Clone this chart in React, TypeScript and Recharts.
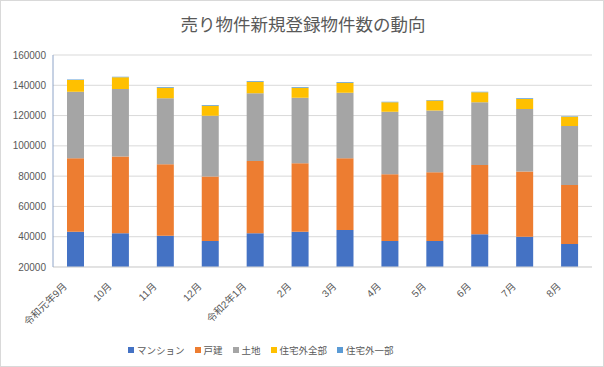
import React from "react";
import {
  BarChart,
  Bar,
  XAxis,
  YAxis,
  CartesianGrid,
  Legend,
} from "recharts";

const months = [
  "令和元年9月",
  "10月",
  "11月",
  "12月",
  "令和2年1月",
  "2月",
  "3月",
  "4月",
  "5月",
  "6月",
  "7月",
  "8月",
];

const mansion = [43300, 42300, 40700, 37200, 42300, 43300, 44400, 37200, 37200, 41600, 40000, 35200];
const kodate = [48500, 50600, 47100, 42500, 47700, 45200, 47400, 44000, 45400, 45800, 43000, 39000];
const tochi = [44000, 44700, 43600, 40200, 44700, 43300, 43300, 41400, 40700, 41400, 41400, 38900];
const jutakugaiZenbu = [7700, 7700, 7000, 6600, 7700, 6600, 6600, 6200, 6600, 6600, 6600, 6100];
const jutakugaiIchibu = [400, 400, 400, 400, 400, 400, 400, 400, 400, 400, 400, 400];

const yTicks = [20000, 40000, 60000, 80000, 100000, 120000, 140000, 160000];

const series = [
  { key: "mansion", name: "マンション", color: "#4472C4" },
  { key: "kodate", name: "戸建", color: "#ED7D31" },
  { key: "tochi", name: "土地", color: "#A5A5A5" },
  { key: "zenbu", name: "住宅外全部", color: "#FFC000" },
  { key: "ichibu", name: "住宅外一部", color: "#5B9BD5" },
];

const data = months.map((m, i) => ({
  month: m,
  mansion: mansion[i],
  kodate: kodate[i],
  tochi: tochi[i],
  zenbu: jutakugaiZenbu[i],
  ichibu: jutakugaiIchibu[i],
}));

const font = "'Liberation Sans', 'Noto Sans CJK JP', sans-serif";
const textColor = "#595959";

function MonthTick(props: any) {
  const { x, y, payload } = props;
  const ax = x - 8;
  const ay = y + 12;
  return (
    <text
      x={ax}
      y={ay}
      transform={`rotate(-45, ${ax}, ${ay})`}
      textAnchor="end"
      fontSize={10}
      fill={textColor}
      fontFamily={font}
    >
      {payload.value}
    </text>
  );
}

function LegendBox() {
  return (
    <div
      style={{
        display: "flex",
        justifyContent: "flex-start",
        gap: 10,
        height: 20,
        alignItems: "center",
        fontSize: 9.5,
        color: textColor,
        fontFamily: font,
        paddingLeft: 128,
      }}
    >
      {series.map((s) => (
        <span key={s.key} style={{ display: "flex", alignItems: "center" }}>
          <span
            style={{
              display: "inline-block",
              width: 6,
              height: 6,
              background: s.color,
              marginRight: 3,
            }}
          />
          {s.name}
        </span>
      ))}
    </div>
  );
}

export default function App() {
  return (
    <div
      style={{
        position: "absolute",
        left: 0,
        top: 0,
        width: 604,
        height: 367,
        background: "#fff",
        border: "1px solid #D9D9D9",
        boxSizing: "border-box",
      }}
    >
      <div
        style={{
          position: "absolute",
          top: 10,
          left: 0,
          width: 604,
          textAlign: "center",
          fontSize: 17.5,
          color: textColor,
          fontFamily: font,
        }}
      >
        売り物件新規登録物件数の動向
      </div>
      <div style={{ position: "absolute", left: -1, top: -1 }}>
        <BarChart
          width={604}
          height={367}
          data={data}
          margin={{ top: 55, right: 12, bottom: 7, left: 0 }}
        >
          <CartesianGrid vertical={false} stroke="#D9D9D9" />
          <XAxis
            dataKey="month"
            height={73}
            interval={0}
            tick={<MonthTick />}
            tickLine={false}
            axisLine={{ stroke: "#D9D9D9" }}
          />
          <YAxis
            width={53}
            domain={[20000, 160000]}
            ticks={yTicks}
            allowDataOverflow
            tickSize={0}
            tickMargin={7}
            tickLine={false}
            axisLine={{ stroke: "#8EA4C8" }}
            tick={{ fontSize: 10, fill: textColor, fontFamily: font }}
          />
          <Legend verticalAlign="bottom" content={<LegendBox />} />
          {series.map((s) => (
            <Bar
              key={s.key}
              dataKey={s.key}
              name={s.name}
              stackId="a"
              fill={s.color}
              barSize={17}
              isAnimationActive={false}
            />
          ))}
        </BarChart>
      </div>
    </div>
  );
}
